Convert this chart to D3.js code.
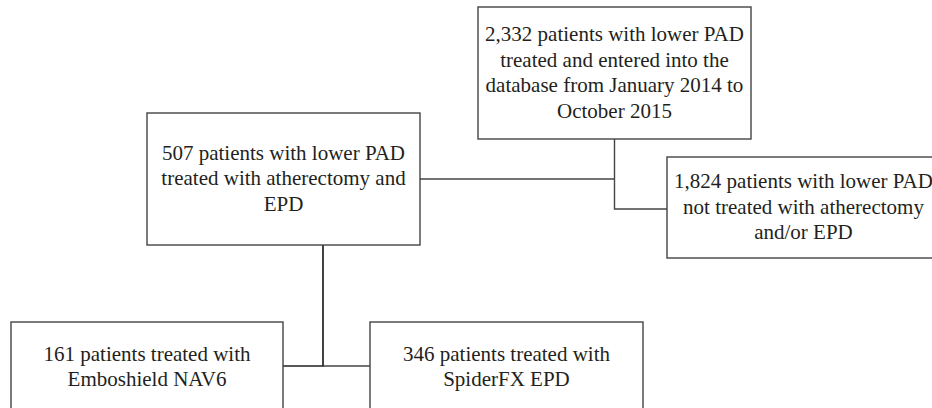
<!DOCTYPE html>
<html>
<head>
<meta charset="utf-8">
<script src="https://cdn.jsdelivr.net/npm/d3@7/dist/d3.min.js"></script>
<style>
  html, body { margin: 0; padding: 0; background: #fff; overflow: hidden; }
  svg { display: block; }
</style>
</head>
<body>
<div id="chart"></div>
<script>
// flowchart data: box ids, their label lines, and the connections between them
const nodeIds = ["all", "treated", "excluded", "nav6", "spider"];
const nodeLabels = [
  ["2,332 patients with lower PAD", "treated and entered into the", "database from January 2014 to", "October 2015"],
  ["507 patients with lower PAD", "treated with atherectomy and", "EPD"],
  ["1,824 patients with lower PAD", "not treated with atherectomy", "and/or EPD"],
  ["161 patients treated with", "Emboshield NAV6"],
  ["346 patients treated with", "SpiderFX EPD"]
];
const links = [
  ["all", "excluded"],
  ["all", "treated"],
  ["treated", "nav6"],
  ["treated", "spider"]
];

// layout (pixels) - kept apart from the data
const W = 932, H = 408;
const boxes = {
  all:      { x: 478, y: 7,   w: 273, h: 132 },
  treated:  { x: 147, y: 113, w: 273, h: 132 },
  excluded: { x: 667, y: 157, w: 273, h: 101 },
  nav6:     { x: 11,  y: 322, w: 272, h: 90 },
  spider:   { x: 370, y: 322, w: 273, h: 90 }
};
const FONT_SIZE = 21;
const LINE_H = 25.5;
const STROKE = "#444";
const TEXT_COLOR = "#231f20";

const svg = d3.select("#chart").append("svg")
    .attr("width", W)
    .attr("height", H);

// elbow connectors
const trunkTop = boxes.all.x + boxes.all.w / 2;   // line down from the top box
const trunkMid = 323;                             // line down from the 507 box
const elbows = {
  "all>excluded": () => {
    const a = boxes.all, e = boxes.excluded;
    return `M${trunkTop},${a.y + a.h} V${e.y + 52} H${e.x}`;
  },
  "all>treated": () => {
    const t = boxes.treated;
    return `M${t.x + t.w},${t.y + 66} H${trunkTop}`;
  },
  "treated>nav6": () => {
    const t = boxes.treated, n = boxes.nav6;
    return `M${trunkMid},${t.y + t.h} V${n.y + 44} H${n.x + n.w}`;
  },
  "treated>spider": () => {
    const s = boxes.spider;
    return `M${trunkMid},${s.y + 44} H${s.x}`;
  }
};

svg.append("g").attr("class", "links")
  .selectAll("path")
  .data(links)
  .join("path")
    .attr("d", d => elbows[d[0] + ">" + d[1]]())
    .attr("fill", "none")
    .attr("stroke", d => d[1] === "nav6" ? "#222" : STROKE)
    .attr("stroke-width", d => d[1] === "nav6" ? 1.7 : 1.4);

const nodes = nodeIds.map((id, i) => ({ id, lines: nodeLabels[i], box: boxes[id] }));

const g = svg.append("g").attr("class", "nodes")
  .selectAll("g")
  .data(nodes)
  .join("g");

g.append("rect")
    .attr("x", d => d.box.x)
    .attr("y", d => d.box.y)
    .attr("width", d => d.box.w)
    .attr("height", d => d.box.h)
    .attr("fill", "#fff")
    .attr("stroke", STROKE)
    .attr("stroke-width", 1.4);

g.each(function(d) {
  const cx = d.box.x + d.box.w / 2;
  const cy = d.box.y + d.box.h / 2;
  const n = d.lines.length;
  d3.select(this).selectAll("text")
    .data(d.lines)
    .join("text")
      .attr("x", cx)
      .attr("y", (l, i) => cy + (i - (n - 1) / 2) * LINE_H + FONT_SIZE * 0.3)
      .attr("text-anchor", "middle")
      .style("font-family", '"Liberation Serif"')
      .style("font-size", FONT_SIZE + "px")
      .attr("fill", TEXT_COLOR)
      .text(l => l);
});
</script>
</body>
</html>
